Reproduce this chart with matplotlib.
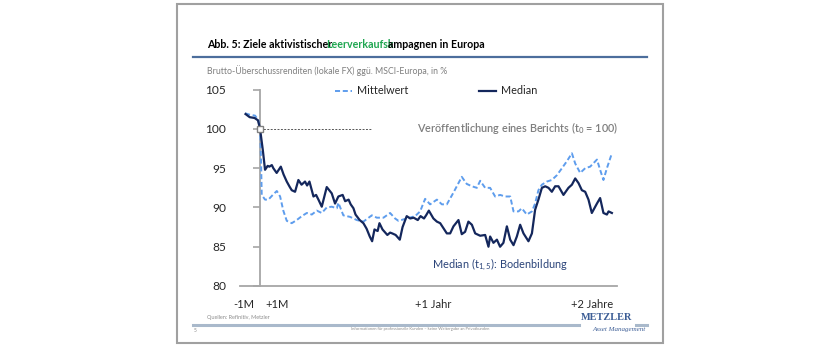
import matplotlib
matplotlib.use("Agg")
import matplotlib.pyplot as plt
from matplotlib.lines import Line2D
from matplotlib.patches import Rectangle

plt.rcParams['font.family'] = ['Lato', 'DejaVu Sans']
plt.rcParams['mathtext.fontset'] = 'custom'
plt.rcParams['mathtext.rm'] = 'Lato'

# ---------------- data (x in months relative to publication, t0) ----------------
median_x = [-1.05, -0.75, -0.4, -0.15, 0, 0.2, 0.36, 0.55, 0.67, 0.85, 0.96, 1.2, 1.5, 1.7,
            1.93, 2.15, 2.29, 2.53, 2.77, 3.0, 3.25, 3.4, 3.57, 3.86, 4.05, 4.22, 4.46, 4.82,
            5.0, 5.18, 5.42, 5.66, 5.97, 6.15, 6.4, 6.55, 6.75, 6.9, 7.2, 7.47, 7.7, 7.93,
            8.1, 8.27, 8.5, 8.63, 8.85, 9.2, 9.4, 9.55, 9.8, 10.1, 10.3, 10.6, 10.85, 11.1,
            11.4, 11.6, 11.85, 12.0, 12.2, 12.53, 12.78, 13.02, 13.5, 13.74, 13.98, 14.34,
            14.58, 14.82, 15.06, 15.31, 15.55, 15.91, 16.27, 16.51, 16.63, 16.87, 17.12,
            17.35, 17.59, 17.84, 18.08, 18.32, 18.56, 18.8, 19.04, 19.4, 19.65, 19.88,
            20.12, 20.37, 20.61, 20.85, 21.09, 21.33, 21.57, 21.93, 22.29, 22.54, 22.78,
            23.02, 23.26, 23.5, 23.74, 23.98, 24.35, 24.58, 24.82, 25.07, 25.19, 25.43]
median_y = [101.9, 101.5, 101.4, 101.1, 100.0, 97.3, 94.8, 95.3, 95.2, 95.4, 95.0, 94.4, 95.2,
            94.2, 93.3, 92.6, 92.2, 92.0, 93.5, 92.9, 93.3, 92.8, 93.3, 91.4, 91.6, 91.0, 90.1,
            92.6, 92.2, 91.8, 90.5, 91.4, 91.6, 90.8, 91.0, 90.4, 89.9, 89.1, 88.4, 88.0, 87.3,
            86.3, 85.7, 87.2, 87.0, 88.0, 87.2, 86.5, 86.8, 86.7, 86.5, 85.9, 87.5, 88.9, 88.6,
            88.7, 88.4, 88.9, 88.6, 89.0, 89.6, 88.6, 88.2, 88.0, 86.7, 86.7, 87.6, 88.4, 86.6,
            86.9, 88.2, 87.8, 86.7, 86.4, 86.5, 85.0, 86.3, 85.5, 85.9, 85.0, 85.5, 87.6, 85.9,
            85.2, 86.3, 87.8, 86.7, 85.7, 86.7, 89.7, 91.0, 92.5, 92.7, 92.5, 92.0, 92.7, 92.7,
            91.6, 92.5, 92.9, 93.7, 93.1, 92.2, 92.0, 91.0, 89.3, 90.5, 91.2, 89.3, 89.1, 89.5,
            89.3]

mean_x = [-1.08, -0.72, -0.36, -0.12, 0, 0.07, 0.12, 0.36, 0.6, 0.92, 1.21, 1.45, 1.68, 1.93,
          2.29, 2.65, 3.02, 3.38, 3.74, 4.1, 4.46, 4.82, 5.18, 5.55, 5.66, 6.02, 6.51, 6.99,
          7.47, 8.08, 8.44, 8.92, 9.4, 9.76, 10.0, 10.61, 11.21, 11.57, 11.93, 12.29, 12.78,
          13.14, 13.5, 13.98, 14.34, 14.58, 14.94, 15.31, 15.67, 15.91, 16.27, 16.63, 16.99,
          17.35, 17.72, 18.08, 18.32, 18.68, 18.92, 19.28, 19.65, 19.88, 20.12, 20.37, 20.73,
          21.09, 21.45, 21.82, 22.18, 22.54, 22.78, 23.14, 23.5, 23.86, 24.35, 24.58, 24.82,
          25.07, 25.43]
mean_y = [102.0, 101.8, 101.7, 101.1, 99.9, 96.1, 91.6, 91.0, 91.0, 91.6, 92.1, 91.4, 89.6, 88.3,
          88.0, 88.4, 88.9, 89.3, 89.1, 89.6, 89.3, 90.0, 90.1, 89.9, 90.6, 89.0, 88.8, 88.4,
          88.2, 89.0, 88.7, 88.7, 89.3, 88.6, 88.3, 88.6, 88.9, 89.5, 91.1, 90.4, 91.0, 90.4,
          90.4, 91.9, 93.1, 93.9, 93.0, 92.7, 92.5, 93.4, 92.5, 92.5, 91.4, 91.6, 91.4, 91.4,
          89.5, 89.5, 89.9, 89.1, 89.5, 90.5, 92.2, 92.9, 93.3, 93.5, 94.1, 95.0, 95.9, 96.9,
          95.6, 94.4, 95.0, 95.2, 96.1, 94.8, 93.5, 95.0, 96.9]

y_ticks = [80, 85, 90, 95, 100, 105]
x_tick_pos = [-1.2, 1.2, 12.5, 24.0]
x_tick_labels = ["-1M", "+1M", "+1 Jahr", "+2 Jahre"]
ref_level = 100
ref_end = 8.1

# ---------------- layout ----------------
W, H = 840, 350
fig = plt.figure(figsize=(W / 100, H / 100), dpi=100)
fig.patch.set_facecolor('white')


def fx(px):
    return px / W


def fy(py):
    return 1 - py / H


NAVY = '#14275c'
LBLUE = '#5e9ded'
GRAY = '#a6a6a6'

ax = fig.add_axes([fx(240), fy(286), (617 - 240) / W, (286 - 89.7) / H])
ax.set_xlim(-1.45, 25.8)
ax.set_ylim(80, 105)
ax.set_facecolor('none')
for s in ['top', 'right']:
    ax.spines[s].set_visible(False)
ax.spines['left'].set_position(('data', 0))
ax.spines['left'].set_color(GRAY)
ax.spines['bottom'].set_color(GRAY)
ax.spines['left'].set_linewidth(1.3)
ax.spines['bottom'].set_linewidth(1.3)

ax.set_yticks(y_ticks)
ax.set_yticklabels([str(v) for v in y_ticks])
ax.tick_params(axis='y', direction='out', length=5, width=1.2, color=GRAY,
               labelsize=8.6, labelcolor='#262626', pad=19.5)
ax.set_xticks(x_tick_pos)
ax.set_xticklabels(x_tick_labels)
ax.tick_params(axis='x', length=0, labelsize=8, labelcolor='#262626', pad=9)

ln_mean, = ax.plot(mean_x, mean_y, color=LBLUE, lw=1.4, ls=(0, (2.6, 1.4)), label='Mittelwert',
                   zorder=3)
ln_med, = ax.plot(median_x, median_y, color=NAVY, lw=1.6, label='Median', zorder=4)

ax.plot([0, ref_end], [ref_level, ref_level], color='#555555', lw=0.7, ls=(0, (2, 1.5)),
        zorder=2)
ax.plot([0], [ref_level], marker='s', ms=5, mfc='white', mec='#808080', mew=1, zorder=6,
        clip_on=False)

leg = ax.legend(handles=[ln_mean, ln_med], ncol=2, loc='center left',
                bbox_to_anchor=(fx(335), fy(91)), bbox_transform=fig.transFigure,
                frameon=False, fontsize=7.8, handlelength=1.6, handletextpad=0.45,
                columnspacing=6.5, borderpad=0, borderaxespad=0)
for t in leg.get_texts():
    t.set_color('#262626')

# annotations placed in figure pixels
fig.text(fx(618), fy(128), r'Veröffentlichung eines Berichts (t$_\mathregular{0}$ = 100)',
         ha='right', va='center', fontsize=7.8, fontweight='semibold', color='#7f7f7f')
fig.text(fx(432), fy(265), r'Median (t$_\mathregular{1,5}$): Bodenbildung',
         ha='left', va='center', fontsize=7.9, color='#2b4479')

# title with coloured part: pieces chained by their measured extents
# (the measured extent of the first piece overshoots its drawn ink, hence the negative gap)
title_parts = ["Abb. 5: Ziele aktivistischer", "Leerverkaufsk", "ampagnen in Europa"]
title_colors = ['black', '#1ea650', 'black']
title_gaps = [0.0, -6.0, 0.6]
title_kw = dict(va='baseline', ha='left', fontsize=7.7, fontweight='bold', family='Lato')
renderer = fig.canvas.get_renderer()
xcur = 207.0
for txt, col, gap in zip(title_parts, title_colors, title_gaps):
    t = fig.text((xcur + gap) / W, fy(48), txt, color=col, **title_kw)
    xcur = t.get_window_extent(renderer=renderer).x1 + gap

fig.add_artist(Line2D([fx(193), fx(647)], [fy(57), fy(57)], color='#4c6e9c', lw=1.6))
fig.text(fx(207), fy(71), 'Brutto-Überschussrenditen (lokale FX) ggü. MSCI-Europa, in %',
         ha='left', va='center', fontsize=6.3, color='#7f7f7f')

# footer
fig.text(fx(207), fy(317), 'Quellen: Refinitiv, Metzler', ha='left', va='center',
         fontsize=4, color='#8c8c8c')
fig.add_artist(Line2D([fx(193), fx(579)], [fy(325), fy(325)], color='#a9b9cb', lw=2.2))
fig.add_artist(Line2D([fx(636), fx(647)], [fy(325), fy(325)], color='#a9b9cb', lw=2.2))
fig.text(fx(194), fy(330), '5', ha='left', va='center', fontsize=3.5, color='#8c8c8c')
fig.text(fx(420), fy(329),
         'Informationen für professionelle Kunden – keine Weitergabe an Privatkunden',
         ha='center', va='center', fontsize=3, color='#8c8c8c')
fig.text(fx(607), fy(318), 'METZLER', ha='center', va='center', fontsize=7.4,
         family='Liberation Serif', fontweight='bold', color='#3d5e96')
fig.text(fx(646), fy(329), 'Asset Management', ha='right', va='center', fontsize=5,
         family='Liberation Serif', style='italic', color='#3d5e96')

# slide frame
fig.add_artist(Rectangle((fx(177), fy(343)), (663 - 177) / W, (343 - 3.5) / H,
                         transform=fig.transFigure, fill=False, edgecolor='#a0a0a0', lw=1.5))

fig.savefig('out.png', dpi=100, facecolor='white')
